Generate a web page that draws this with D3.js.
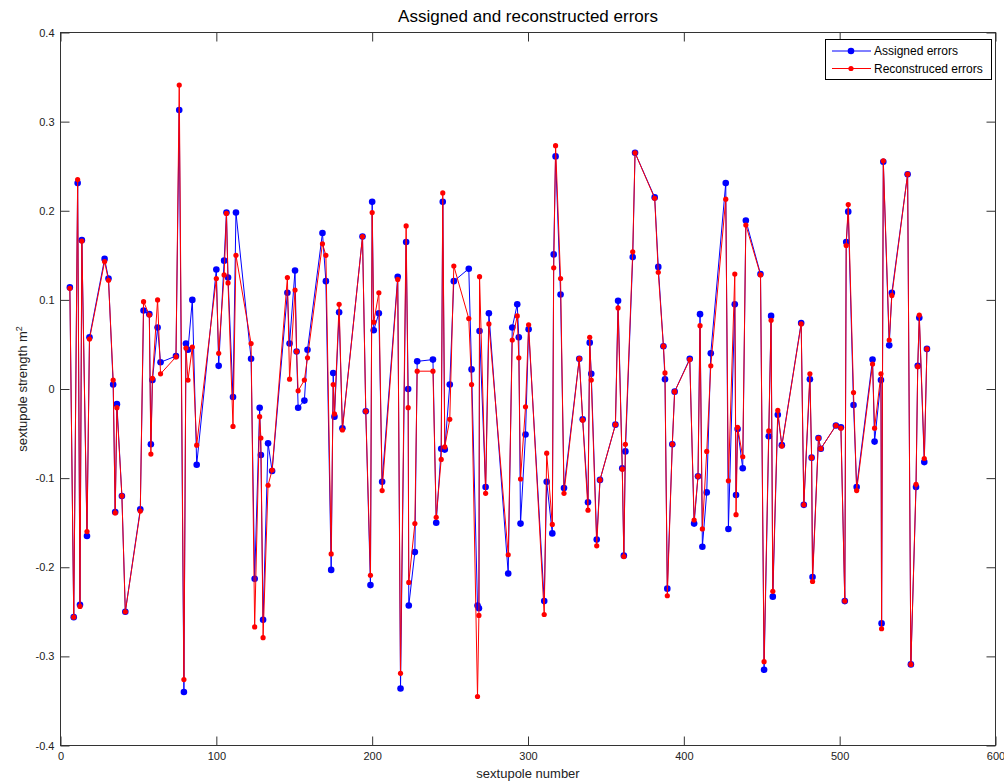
<!DOCTYPE html>
<html>
<head>
<meta charset="utf-8">
<script src="https://cdn.jsdelivr.net/npm/d3@7"></script>
<style>
  html, body { margin: 0; padding: 0; background: #fff; }
  svg { display: block; font-family: "Liberation Sans", Arial, sans-serif; }
</style>
</head>
<body>
<svg id="chart" width="1004" height="782"></svg>
<script>
// ---- data ----
const sextupoleNumbers = [6, 8.5, 11, 12.5, 13.7, 17, 18.6, 28.3, 30.8, 33.8, 35.1, 36.2, 39.4, 41.6, 51.2, 53.3, 57, 58, 59, 62.3,
  64.2, 74.1, 76.2, 79.2, 80.5, 81.8, 84.6, 87.4, 100, 101.5, 105, 106.5, 107.5, 110.7, 112.6, 122.3, 124.6, 127.8, 128.6, 130,
  133.2, 135.8, 145.6, 147, 150.5, 151.5, 152.5, 156.5, 158.5, 168.1, 170.3, 173.7, 175, 175.8, 178.8, 180.9, 193.8, 195.9, 198.9, 200,
  201, 204.3, 206.4, 216.4, 218.2, 221.8, 223.1, 223.5, 227.4, 228.9, 239, 241.1, 244.3, 245.3, 246.6, 249.8, 252.4, 262, 263.8, 267.6,
  268.5, 268.9, 272.8, 274.9, 287.3, 289.9, 293.1, 294.1, 295.2, 298.4, 300.4, 310.4, 312, 315.6, 316.5, 317.7, 320.9, 323.1, 332.9, 335.1,
  338.5, 339.6, 340.6, 344.1, 346.2, 356.1, 357.8, 360.5, 361.5, 362.5, 367.2, 368.7, 381.3, 383.6, 386.9, 387.9, 389.4, 392.6, 394.1, 403.8,
  406.6, 409.1, 410.4, 411.9, 414.7, 417.3, 426.9, 428.6, 432.7, 433.5, 434.5, 437.8, 439.8, 449.2, 451.5, 454.5, 456, 457.1, 460.3, 462.9,
  475.3, 477, 480.9, 482, 482.6, 486.4, 487.9, 497.6, 500.8, 503.3, 504.2, 505.5, 508.9, 510.9, 521.1, 522.4, 526.5, 526.9, 528, 531.8,
  533.5, 543.6, 545.7, 549, 550.1, 551.1, 554.3, 556];

const assignedErrors = [0.114, -0.256, 0.231, -0.242, 0.167, -0.165, 0.058, 0.146, 0.124, 0.005, -0.138, -0.017, -0.120, -0.250, -0.135, 0.088, 0.084, -0.062, 0.010, 0.069,
  0.030, 0.037, 0.313, -0.340, 0.051, 0.044, 0.100, -0.085, 0.134, 0.026, 0.144, 0.198, 0.125, -0.009, 0.198, 0.034, -0.213, -0.021, -0.074, -0.259,
  -0.061, -0.092, 0.108, 0.051, 0.133, 0.042, -0.021, -0.013, 0.044, 0.175, 0.121, -0.203, 0.018, -0.031, 0.086, -0.044, 0.171, -0.025, -0.220, 0.210,
  0.066, 0.085, -0.104, 0.126, -0.336, 0.165, 0.000, -0.243, -0.183, 0.031, 0.033, -0.150, -0.067, 0.210, -0.068, 0.005, 0.121, 0.135, 0.022, -0.243,
  -0.246, 0.065, -0.110, 0.085, -0.207, 0.069, 0.095, 0.058, -0.151, -0.051, 0.067, -0.238, -0.104, -0.162, 0.151, 0.261, 0.106, -0.111, 0.034, -0.034,
  -0.127, 0.052, 0.017, -0.169, -0.102, -0.040, 0.099, -0.089, -0.187, -0.070, 0.148, 0.265, 0.215, 0.137, 0.048, 0.011, -0.224, -0.062, -0.003, 0.034,
  -0.151, -0.098, 0.084, -0.177, -0.116, 0.040, 0.231, -0.157, 0.095, -0.119, -0.045, -0.089, 0.189, 0.129, -0.315, -0.053, 0.082, -0.233, -0.029, -0.063,
  0.074, -0.130, 0.011, -0.077, -0.211, -0.055, -0.067, -0.041, -0.043, -0.238, 0.165, 0.199, -0.018, -0.110, 0.033, -0.059, 0.010, -0.263, 0.255, 0.049,
  0.108, 0.241, -0.309, -0.110, 0.026, 0.080, -0.082, 0.045];

const reconstructedErrors = [0.113, -0.256, 0.235, -0.244, 0.166, -0.160, 0.056, 0.143, 0.122, 0.010, -0.139, -0.021, -0.120, -0.250, -0.137, 0.098, 0.083, -0.073, 0.012, 0.100,
  0.017, 0.036, 0.341, -0.326, 0.046, 0.010, 0.047, -0.063, 0.124, 0.040, 0.128, 0.197, 0.119, -0.042, 0.150, 0.051, -0.267, -0.031, -0.055, -0.279,
  -0.108, -0.091, 0.125, 0.011, 0.111, 0.042, -0.002, 0.010, 0.035, 0.163, 0.150, -0.185, 0.005, -0.028, 0.095, -0.046, 0.171, -0.025, -0.209, 0.198,
  0.075, 0.108, -0.114, 0.123, -0.319, 0.183, -0.021, -0.217, -0.151, 0.020, 0.020, -0.144, -0.079, 0.220, -0.065, -0.034, 0.138, 0.079, 0.005, -0.345,
  -0.254, 0.126, -0.117, 0.073, -0.186, 0.055, 0.082, 0.035, -0.101, -0.020, 0.072, -0.253, -0.072, -0.152, 0.136, 0.273, 0.124, -0.117, 0.034, -0.035,
  -0.136, 0.058, 0.010, -0.176, -0.102, -0.040, 0.091, -0.090, -0.188, -0.062, 0.154, 0.265, 0.214, 0.131, 0.048, 0.018, -0.232, -0.062, -0.003, 0.033,
  -0.147, -0.098, 0.071, -0.157, -0.070, 0.026, 0.213, -0.103, 0.129, -0.141, -0.043, -0.076, 0.184, 0.128, -0.306, -0.047, 0.077, -0.227, -0.024, -0.064,
  0.073, -0.130, 0.017, -0.077, -0.216, -0.055, -0.067, -0.041, -0.044, -0.238, 0.161, 0.207, -0.004, -0.114, 0.028, -0.044, 0.017, -0.269, 0.256, 0.055,
  0.105, 0.241, -0.309, -0.107, 0.025, 0.083, -0.078, 0.045];

const xTickValues = [0, 100, 200, 300, 400, 500, 600];
const yTickValues = [-0.4, -0.3, -0.2, -0.1, 0, 0.1, 0.2, 0.3, 0.4];
const yTickLabels = ["-0.4", "-0.3", "-0.2", "-0.1", "0", "0.1", "0.2", "0.3", "0.4"];
const seriesNames = ["Assigned errors", "Reconstruced errors"];

// ---- layout ----
const svg = d3.select("#chart");
const L = 60.5, R = 995.5, T = 32.5, B = 745.5;
const x = d3.scaleLinear().domain([0, 600]).range([L, R]);
const y = d3.scaleLinear().domain([-0.4, 0.4]).range([B, T]);
const axisColor = "#333";
const tickLen = 9;

// frame
svg.append("rect").attr("x", L).attr("y", T).attr("width", R - L).attr("height", B - T)
  .attr("fill", "#fff").attr("stroke", axisColor).attr("stroke-width", 1);

function styleAxis(g) {
  g.select(".domain").remove();
  g.selectAll(".tick line").attr("stroke", axisColor);
  g.selectAll(".tick text").attr("fill", "#222").style("font-size", "11px")
    .style("font-family", "'Liberation Sans', Arial, sans-serif");
}

svg.append("g").attr("transform", `translate(0,${B})`)
  .call(d3.axisBottom(x).tickValues(xTickValues).tickSize(-tickLen).tickPadding(7).tickFormat(d3.format("d")))
  .call(styleAxis);
svg.append("g").attr("transform", `translate(0,${T})`)
  .call(d3.axisTop(x).tickValues(xTickValues).tickSize(-tickLen).tickFormat(""))
  .call(styleAxis);
svg.append("g").attr("transform", `translate(${L},0)`)
  .call(d3.axisLeft(y).tickValues(yTickValues).tickSize(-tickLen).tickPadding(6)
    .tickFormat((d, i) => yTickLabels[i]))
  .call(styleAxis);
svg.append("g").attr("transform", `translate(${R},0)`)
  .call(d3.axisRight(y).tickValues(yTickValues).tickSize(-tickLen).tickFormat(""))
  .call(styleAxis);

// series
const series = [
  { values: assignedErrors, color: "#0000ff", r: 3.3 },
  { values: reconstructedErrors, color: "#ff0000", r: 2.6 }
];
const line = d3.line().x(d => x(d[0])).y(d => y(d[1]));
series.forEach(s => {
  const pts = sextupoleNumbers.map((n, i) => [n, s.values[i]]);
  const g = svg.append("g");
  g.append("path").datum(pts).attr("d", line).attr("fill", "none")
    .attr("stroke", s.color).attr("stroke-width", 1);
  g.selectAll("circle").data(pts).join("circle")
    .attr("cx", d => x(d[0])).attr("cy", d => y(d[1])).attr("r", s.r).attr("fill", s.color);
});

// title and labels
svg.append("text").attr("x", (L + R) / 2).attr("y", 22).attr("text-anchor", "middle")
  .style("font-size", "17px").attr("fill", "#000").text("Assigned and reconstructed errors");
svg.append("text").attr("x", (L + R) / 2).attr("y", 778).attr("text-anchor", "middle")
  .style("font-size", "13px").attr("fill", "#222").text("sextupole number");
const yl = svg.append("text").attr("transform", `translate(27,${(T + B) / 2}) rotate(-90)`)
  .attr("text-anchor", "middle").style("font-size", "13px").attr("fill", "#222");
yl.append("tspan").text("sextupole strength m");
yl.append("tspan").attr("dy", -5).style("font-size", "9px").text("2");

// legend
const lg = svg.append("g");
lg.append("rect").attr("x", 825.5).attr("y", 39.5).attr("width", 166).attr("height", 40)
  .attr("fill", "#fff").attr("stroke", "#000").attr("stroke-width", 1);
series.forEach((s, i) => {
  const yy = 51 + i * 17.5;
  lg.append("line").attr("x1", 832).attr("x2", 871).attr("y1", yy).attr("y2", yy)
    .attr("stroke", s.color).attr("stroke-width", 1);
  lg.append("circle").attr("cx", 851).attr("cy", yy).attr("r", s.r).attr("fill", s.color);
  lg.append("text").attr("x", 874).attr("y", yy + 4).style("font-size", "12px")
    .attr("fill", "#000").text(seriesNames[i]);
});
</script>
</body>
</html>
